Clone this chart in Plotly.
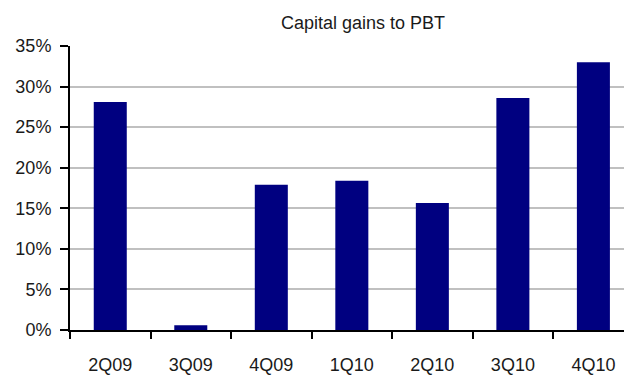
import plotly.graph_objects as go

# Quarterly capital gains as a share of profit before tax (%)
quarters = ["2Q09", "3Q09", "4Q09", "1Q10", "2Q10", "3Q10", "4Q10"]
capital_gains_pct = [28.1, 0.6, 17.9, 18.4, 15.65, 28.6, 33.0]
y_ticks = [0, 5, 10, 15, 20, 25, 30, 35]
y_tick_labels = [f"{v}%" for v in y_ticks]

FONT = "Liberation Sans, Arial, sans-serif"
TEXT_COLOR = "#1a1a1a"

fig = go.Figure(
    go.Bar(
        x=quarters,
        y=capital_gains_pct,
        marker=dict(color="#000080", line=dict(width=0)),
        width=0.41,
    )
)

fig.update_layout(
    width=624,
    height=376,
    margin=dict(l=70, r=0, t=46, b=46),
    paper_bgcolor="white",
    plot_bgcolor="white",
    showlegend=False,
    font=dict(family=FONT, size=18, color=TEXT_COLOR),
    title=dict(
        text="Capital gains to PBT",
        x=330 / 624,
        xanchor="center",
        xref="paper",
        y=1 - 23 / 376,
        yanchor="middle",
        font=dict(family=FONT, size=18, color=TEXT_COLOR),
    ),
)

fig.update_xaxes(
    type="category",
    range=[-0.5, 6.38],
    showline=True,
    linecolor="black",
    linewidth=2,
    ticks="outside",
    tickson="boundaries",
    ticklen=7,
    tickwidth=2,
    tickcolor="black",
    showgrid=False,
    ticklabelstandoff=17,
    tickfont=dict(family=FONT, size=18, color=TEXT_COLOR),
)

fig.update_yaxes(
    range=[0, 35],
    tickvals=y_ticks,
    ticktext=y_tick_labels,
    showline=True,
    linecolor="black",
    linewidth=2,
    ticks="outside",
    ticklen=8,
    tickwidth=2,
    tickcolor="black",
    showgrid=True,
    gridcolor="#c0c0c0",
    gridwidth=2,
    zeroline=False,
    ticklabelstandoff=5,
    tickfont=dict(family=FONT, size=18, color=TEXT_COLOR),
)

fig.write_html("out.html")
